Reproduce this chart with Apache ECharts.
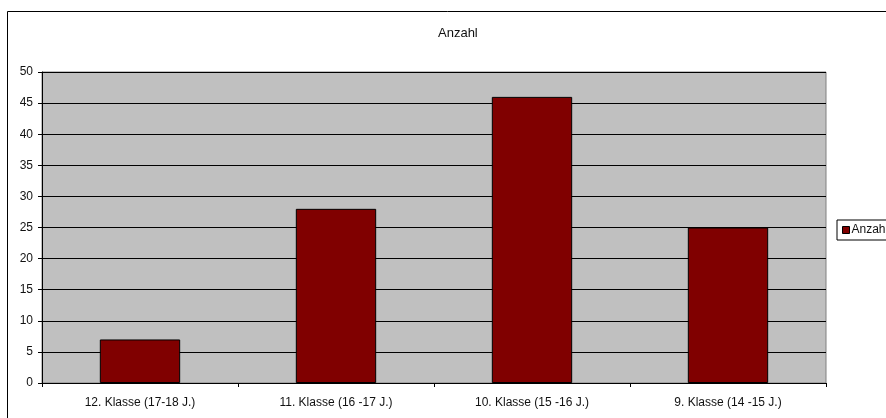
<!DOCTYPE html>
<html>
<head>
<meta charset="utf-8">
<script src="https://cdn.jsdelivr.net/npm/echarts@6/dist/echarts.min.js"></script>
<style>
  html, body { margin: 0; padding: 0; background: #fff; }
  #chart { width: 886px; height: 418px; }
</style>
</head>
<body>
<div id="chart"></div>
<script>
// Students per class level
const categories = ['12. Klasse (17-18 J.)', '11. Klasse (16 -17 J.)', '10. Klasse (15 -16 J.)', '9. Klasse (14 -15 J.)'];
const anzahl = [7, 28, 46, 25];
const seriesName = 'Anzahl';
const chartTitle = 'Anzahl';

const chart = echarts.init(document.getElementById('chart'), null, { renderer: 'canvas' });
const font = 'Arial, "Liberation Sans", sans-serif';

chart.setOption({
  animation: false,
  backgroundColor: '#fff',
  title: {
    text: chartTitle,
    left: 433,
    top: 22,
    textStyle: { fontFamily: font, fontSize: 13, fontWeight: 'normal', color: '#111' }
  },
  legend: {
    data: [seriesName],
    left: 837,
    top: 220,
    orient: 'vertical',
    icon: 'rect',
    itemWidth: 7,
    itemHeight: 7,
    itemGap: 4,
    padding: [4, 8, 4, 5],
    borderColor: '#000',
    borderWidth: 1,
    backgroundColor: '#fff',
    textStyle: { fontFamily: font, fontSize: 12, color: '#111', padding: [0, 0, 0, -3] },
    itemStyle: { borderColor: '#000', borderWidth: 1 }
  },
  graphic: [{
    type: 'rect',
    shape: { x: 7.5, y: 11.5, width: 900, height: 500 },
    style: { fill: 'none', stroke: '#000', lineWidth: 1 },
    z: -1
  }],
  grid: {
    left: 42, right: 60, top: 72, bottom: 35,
    show: true,
    backgroundColor: '#c0c0c0',
    borderColor: '#808080',
    borderWidth: 1
  },
  xAxis: {
    type: 'category',
    data: categories,
    axisLine: { show: true, lineStyle: { color: '#000', width: 1 } },
    axisTick: { show: true, length: 4, alignWithLabel: false, lineStyle: { color: '#000' } },
    axisLabel: { fontFamily: font, fontSize: 12, color: '#111', margin: 14, interval: 0 }
  },
  yAxis: {
    type: 'value',
    min: 0,
    max: 50,
    interval: 5,
    axisLine: { show: true, lineStyle: { color: '#000', width: 1 } },
    axisTick: { show: true, length: 4, lineStyle: { color: '#000' } },
    axisLabel: { fontFamily: font, fontSize: 12, color: '#111', margin: 9 },
    splitLine: { show: true, lineStyle: { color: '#000', width: 1 } }
  },
  series: [{
    name: seriesName,
    type: 'bar',
    data: anzahl,
    barWidth: '41%',
    itemStyle: { color: '#800000', borderColor: '#000', borderWidth: 1 }
  }]
});
</script>
</body>
</html>
